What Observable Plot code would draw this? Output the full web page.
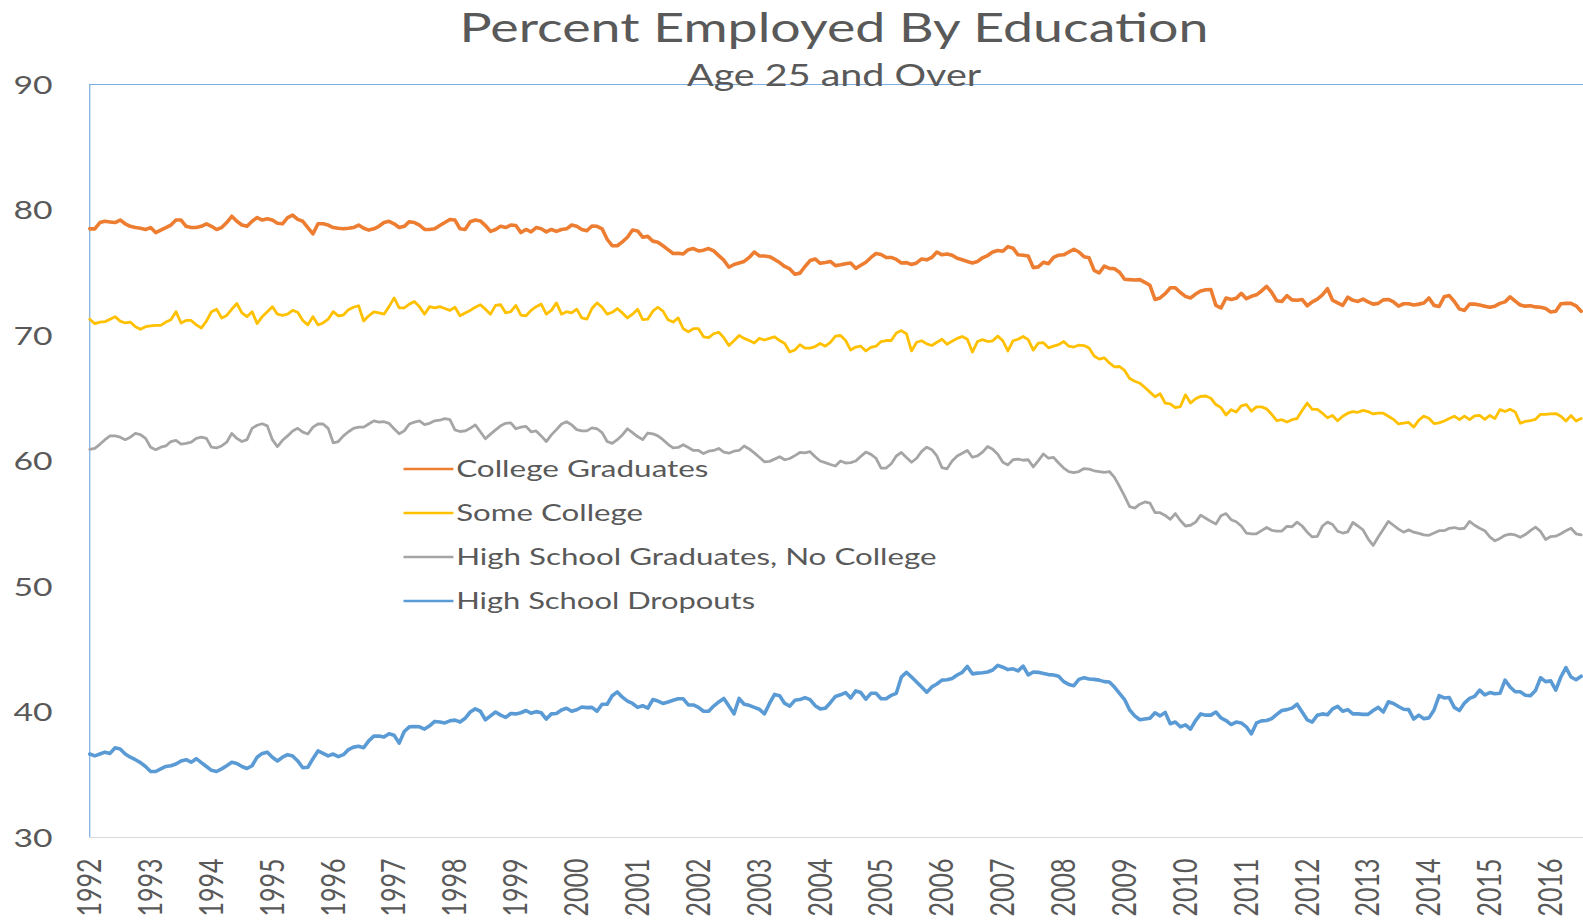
<!DOCTYPE html>
<html><head><meta charset="utf-8">
<script src="https://cdn.jsdelivr.net/npm/d3@7"></script>
<script src="https://cdn.jsdelivr.net/npm/@observablehq/plot@0.6"></script>
<style>
html,body{margin:0;padding:0;background:#fff;overflow:hidden;}
#chart svg path, #chart svg line { vector-effect: non-scaling-stroke; }
</style></head><body><div id="chart"></div>
<script>
const title = "Percent Employed By Education";
const subtitle = "Age 25 and Over";
const seriesNames = ["College Graduates", "Some College", "High School Graduates, No College", "High School Dropouts"];
const seriesColors = ["#ED7D31", "#FFC000", "#A5A5A5", "#5B9BD5"];
const startYear = 1992; // monthly values, January 1992 – July 2016

const college = [
78.5,78.5,79.0,79.1,79.05,79.0,79.2,78.9,78.7,78.6,78.55,78.45,
78.6,78.2,78.4,78.6,78.8,79.2,79.2,78.7,78.6,78.6,78.7,78.9,
78.7,78.45,78.6,79.0,79.5,79.1,78.8,78.7,79.1,79.4,79.2,79.3,
79.2,78.95,78.9,79.4,79.6,79.25,79.1,78.6,78.1,78.9,78.9,78.8,
78.6,78.54,78.5,78.54,78.6,78.8,78.54,78.4,78.5,78.7,79.0,79.1,
78.9,78.6,78.7,79.07,79.0,78.8,78.45,78.45,78.5,78.76,79.0,79.25,
79.2,78.5,78.45,79.07,79.2,79.13,78.76,78.3,78.45,78.7,78.6,78.8,
78.76,78.2,78.45,78.26,78.6,78.5,78.26,78.45,78.3,78.45,78.5,78.8,
78.7,78.45,78.35,78.73,78.7,78.5,77.67,77.15,77.15,77.46,77.83,78.4,
78.33,77.83,77.9,77.52,77.43,77.15,76.84,76.53,76.56,76.5,76.84,76.93,
76.74,76.8,76.93,76.74,76.37,76.0,75.44,75.66,75.78,75.9,76.22,76.65,
76.34,76.34,76.28,76.06,75.81,75.5,75.3,74.88,74.97,75.5,75.97,76.1,
75.75,75.81,75.9,75.57,75.63,75.72,75.78,75.35,75.6,75.84,76.22,76.53,
76.46,76.22,76.22,76.06,75.78,75.81,75.66,75.78,76.1,76.03,76.22,76.65,
76.43,76.5,76.4,76.15,76.03,75.9,75.78,75.9,76.19,76.37,76.65,76.77,
76.71,77.08,76.96,76.43,76.4,76.34,75.41,75.47,75.84,75.72,76.22,76.4,
76.43,76.65,76.87,76.65,76.28,76.19,75.19,74.98,75.53,75.35,75.32,75.04,
74.48,74.45,74.42,74.45,74.23,74.0,72.87,72.99,73.33,73.8,73.8,73.43,
73.12,72.99,73.3,73.55,73.64,73.67,72.4,72.19,72.99,72.87,72.96,73.36,
72.93,73.12,73.24,73.55,73.92,73.43,72.77,72.71,73.18,72.84,72.81,72.87,
72.37,72.68,72.9,73.24,73.73,72.81,72.6,72.4,73.05,72.8,72.71,72.9,
72.68,72.5,72.56,72.84,72.87,72.68,72.34,72.53,72.53,72.43,72.5,72.59,
72.99,72.4,72.31,73.08,73.18,72.71,72.12,72.0,72.5,72.5,72.43,72.34,
72.25,72.34,72.56,72.68,73.08,72.74,72.43,72.34,72.37,72.28,72.25,72.15,
71.87,71.94,72.53,72.56,72.56,72.37,71.94];

const someCollege = [
71.3,70.95,71.07,71.1,71.3,71.5,71.15,71.0,71.07,70.7,70.5,70.7,
70.76,70.8,70.8,71.07,71.25,71.9,71.0,71.2,71.2,70.85,70.6,71.15,
71.9,72.1,71.4,71.6,72.1,72.55,71.8,71.5,71.9,70.95,71.5,71.9,
72.3,71.7,71.6,71.7,72.0,71.85,71.2,70.85,71.5,70.85,71.0,71.3,
71.9,71.57,71.63,72.06,72.25,72.37,71.16,71.57,71.88,71.8,71.7,72.3,
73.0,72.2,72.2,72.5,72.7,72.3,71.7,72.3,72.2,72.3,72.15,72.0,
72.25,71.57,71.8,72.0,72.25,72.45,72.1,71.7,72.4,72.45,71.8,71.9,
72.4,71.63,71.57,72.0,72.3,72.5,71.7,72.0,72.6,71.7,71.9,71.8,
72.1,71.4,71.3,72.15,72.6,72.25,71.7,71.85,72.15,71.8,71.4,71.7,
72.1,71.26,71.3,71.94,72.25,71.94,71.26,71.07,71.4,70.54,70.3,70.54,
70.54,69.9,69.83,70.14,70.26,69.83,69.2,69.58,70.0,69.77,69.6,69.4,
69.77,69.64,69.77,69.9,69.6,69.36,68.68,68.84,69.27,69.0,69.0,69.12,
69.36,69.15,69.46,69.95,70.0,69.6,68.84,69.08,69.15,68.77,69.05,69.15,
69.52,69.6,69.6,70.2,70.39,70.14,68.77,69.46,69.58,69.33,69.2,69.46,
69.7,69.3,69.55,69.77,69.92,69.7,68.68,69.52,69.67,69.52,69.58,69.95,
69.58,68.77,69.58,69.7,69.92,69.67,68.84,69.4,69.43,69.02,69.15,69.27,
69.52,69.15,69.08,69.24,69.2,69.0,68.37,68.12,68.22,67.81,67.5,67.53,
67.22,66.57,66.35,66.2,65.86,65.49,65.12,65.36,64.62,64.56,64.25,64.34,
65.27,64.62,64.96,65.15,65.18,65.0,64.5,64.25,63.66,64.09,63.9,64.4,
64.5,63.97,64.31,64.31,64.15,63.72,63.22,63.29,63.1,63.29,63.38,64.03,
64.62,64.12,64.12,63.81,63.44,63.63,63.2,63.57,63.81,63.94,63.88,64.03,
63.94,63.75,63.81,63.81,63.57,63.32,62.95,63.01,63.07,62.7,63.26,63.57,
63.41,62.98,63.04,63.19,63.38,63.57,63.29,63.57,63.29,63.6,63.63,63.32,
63.63,63.38,64.09,63.94,64.12,63.91,63.01,63.16,63.22,63.32,63.72,63.72,
63.75,63.78,63.57,63.19,63.63,63.19,63.38];

const hsGrad = [
60.93,61.0,61.33,61.7,62.0,62.0,61.9,61.7,61.9,62.2,62.1,61.8,
61.1,60.9,61.1,61.2,61.55,61.65,61.35,61.4,61.5,61.8,61.9,61.8,
61.1,61.05,61.2,61.5,62.2,61.8,61.55,61.7,62.6,62.85,62.97,62.8,
61.7,61.15,61.65,62.0,62.4,62.6,62.3,62.15,62.7,62.95,62.95,62.6,
61.45,61.55,62.0,62.33,62.6,62.7,62.7,62.95,63.2,63.1,63.13,63.0,
62.57,62.17,62.4,62.95,63.1,63.2,62.9,63.0,63.2,63.25,63.38,63.3,
62.48,62.35,62.4,62.6,62.88,62.33,61.77,62.14,62.48,62.8,63.0,63.04,
62.57,62.7,62.76,62.33,62.4,62.0,61.55,62.08,62.5,62.95,63.13,62.88,
62.5,62.4,62.4,62.64,62.57,62.26,61.55,61.4,61.7,62.08,62.57,62.26,
61.95,61.7,62.23,62.17,62.0,61.7,61.33,61.05,61.08,61.3,61.08,60.84,
60.84,60.59,60.78,60.84,61.0,60.7,60.62,60.78,60.84,61.2,60.96,60.65,
60.3,59.94,59.97,60.15,60.34,60.1,60.2,60.43,60.68,60.65,60.74,60.34,
60.0,59.87,59.72,59.6,60.0,59.84,59.87,60.0,60.37,60.71,60.53,60.22,
59.44,59.44,59.78,60.4,60.68,60.28,59.9,60.22,60.77,61.1,60.9,60.4,
59.47,59.38,60.0,60.4,60.62,60.84,60.3,60.4,60.71,61.15,60.93,60.53,
59.9,59.69,60.1,60.15,60.06,60.1,59.53,60.03,60.56,60.22,60.28,59.84,
59.44,59.16,59.07,59.16,59.4,59.35,59.22,59.16,59.1,59.16,58.7,57.98,
57.2,56.37,56.25,56.56,56.74,56.65,55.88,55.88,55.66,55.35,55.81,55.26,
54.82,54.88,55.13,55.69,55.44,55.19,54.98,55.63,55.81,55.32,55.16,54.82,
54.26,54.2,54.2,54.45,54.7,54.48,54.42,54.42,54.79,54.76,55.13,54.82,
54.33,53.95,54.0,54.82,55.13,54.94,54.4,54.26,54.36,55.1,54.82,54.51,
53.8,53.27,53.95,54.57,55.19,54.88,54.57,54.33,54.51,54.33,54.23,54.11,
54.08,54.26,54.45,54.45,54.64,54.7,54.6,54.64,55.19,54.88,54.64,54.45,
53.95,53.64,53.83,54.08,54.17,54.11,53.92,54.14,54.45,54.73,54.39,53.74,
53.98,54.01,54.2,54.45,54.64,54.2,54.11];

const dropouts = [
36.65,36.5,36.65,36.8,36.7,37.15,37.05,36.65,36.4,36.2,35.97,35.66,
35.26,35.26,35.47,35.66,35.72,35.85,36.1,36.2,36.0,36.28,35.97,35.66,
35.35,35.26,35.47,35.72,36.0,35.9,35.66,35.5,35.72,36.4,36.7,36.8,
36.4,36.1,36.4,36.6,36.5,36.1,35.56,35.6,36.28,36.9,36.7,36.5,
36.65,36.44,36.6,37.0,37.2,37.27,37.15,37.7,38.08,38.08,38.0,38.26,
38.14,37.52,38.45,38.82,38.85,38.82,38.64,38.9,39.25,39.2,39.13,39.3,
39.35,39.2,39.5,40.0,40.25,40.06,39.38,39.69,40.0,39.75,39.57,39.88,
39.85,39.94,40.12,39.9,40.03,39.94,39.44,39.85,39.88,40.16,40.3,40.06,
40.18,40.4,40.35,40.37,40.06,40.62,40.62,41.3,41.6,41.18,40.87,40.68,
40.37,40.5,40.3,40.99,40.87,40.68,40.8,40.93,41.05,41.05,40.56,40.56,
40.37,40.06,40.06,40.47,40.8,41.08,40.47,39.85,41.08,40.62,40.53,40.37,
40.22,39.85,40.68,41.4,41.3,40.68,40.47,40.93,40.99,41.15,40.99,40.5,
40.25,40.3,40.74,41.24,41.37,41.55,41.12,41.68,41.55,41.02,41.49,41.49,
41.05,41.05,41.33,41.49,42.79,43.16,42.79,42.39,41.99,41.58,42.0,42.23,
42.54,42.57,42.67,42.95,43.16,43.63,43.04,43.1,43.13,43.19,43.35,43.72,
43.57,43.38,43.44,43.28,43.66,42.95,43.19,43.16,43.07,42.98,42.95,42.85,
42.42,42.2,42.1,42.6,42.73,42.63,42.6,42.54,42.42,42.39,41.99,41.49,
40.99,40.16,39.69,39.38,39.44,39.5,39.94,39.69,39.97,39.07,39.2,38.82,
38.98,38.64,39.32,39.85,39.75,39.75,40.0,39.53,39.32,39.0,39.2,39.13,
38.82,38.26,39.13,39.29,39.32,39.47,39.81,40.12,40.19,40.31,40.62,40.0,
39.38,39.2,39.75,39.85,39.78,40.25,40.45,40.06,40.19,39.85,39.85,39.81,
39.81,40.12,40.37,40.0,40.81,40.68,40.44,40.22,40.19,39.44,39.75,39.47,
39.53,40.16,41.3,41.12,41.15,40.37,40.12,40.71,41.08,41.24,41.74,41.37,
41.55,41.46,41.49,42.54,41.99,41.61,41.61,41.33,41.3,41.71,42.73,42.42,
42.48,41.74,42.79,43.54,42.79,42.57,42.85];

const yearLabels = [1992,1993,1994,1995,1996,1997,1998,1999,2000,2001,2002,2003,2004,2005,2006,2007,2008,2009,2010,2011,2012,2013,2014,2015,2016];
const yTicks = [30, 40, 50, 60, 70, 80, 90];

const allSeries = [college, someCollege, hsGrad, dropouts];
const widths = [3.6, 2.8, 2.8, 3.6];
const table = [];
allSeries.forEach((vals, s) => vals.forEach((v, i) => table.push({series: seriesNames[s], t: startYear + i / 12, v})));

const W = 1173, H = 921, FULLW = 1583;
const textColor = "#595959";
const axisBlue = "#7aaee0";

const plot = Plot.plot({
  width: W, height: H,
  marginLeft: 66, marginRight: 0, marginTop: 84, marginBottom: 84,
  style: {fontFamily: "Lato, 'Open Sans', sans-serif", fontSize: "25px", background: "white", overflow: "visible"},
  x: {domain: [startYear, startYear + 294.5 / 12], axis: null},
  y: {domain: [30, 90], axis: null},
  marks: [
    Plot.ruleY([30], {stroke: "#d9d9d9", strokeWidth: 1.2}),
    Plot.ruleY([90], {stroke: axisBlue, strokeWidth: 1.2}),
    Plot.ruleX([startYear], {stroke: axisBlue, strokeWidth: 1.2}),
    ...seriesNames.map((name, s) => Plot.line(table.filter(d => d.series === name), {
      x: "t", y: "v", stroke: seriesColors[s], strokeWidth: widths[s], strokeLinejoin: "round"
    })),
    Plot.text(yTicks, {y: d => d, text: d => String(d), frameAnchor: "left", dx: -27.5, dy: 1,
      textAnchor: "end", fill: textColor, fontSize: 25}),
    Plot.text(yearLabels, {x: d => d, text: d => String(d), frameAnchor: "bottom", dy: 21, dx: 8.4,
      rotate: -90, textAnchor: "end", fill: textColor, fontSize: 25})
  ]
});

const svg = d3.select(plot);
svg.append("text").attr("x", 618).attr("y", 42).attr("text-anchor", "middle")
  .attr("font-size", 40).attr("fill", textColor).attr("textLength", 555).attr("lengthAdjust", "spacingAndGlyphs")
  .text(title);
svg.append("text").attr("x", 618).attr("y", 86).attr("text-anchor", "middle")
  .attr("font-size", 31).attr("fill", textColor).attr("textLength", 218).attr("lengthAdjust", "spacingAndGlyphs")
  .text(subtitle);

const legendRows = [469, 513, 557, 601];
const legendWidths = [187, 138.5, 356, 221.5];
const lg = svg.append("g");
seriesNames.forEach((name, s) => {
  lg.append("line").attr("x1", 299).attr("x2", 336).attr("y1", legendRows[s]).attr("y2", legendRows[s])
    .attr("stroke", seriesColors[s]).attr("stroke-width", 2.6);
  lg.append("text").attr("x", 338).attr("y", legendRows[s]).attr("dy", "0.35em")
    .attr("font-size", 23).attr("fill", textColor).attr("text-anchor", "start")
    .attr("textLength", legendWidths[s]).attr("lengthAdjust", "spacingAndGlyphs")
    .text(name);
});

plot.setAttribute("width", FULLW);
plot.setAttribute("height", H);
plot.setAttribute("viewBox", `0 0 ${W} ${H}`);
plot.setAttribute("preserveAspectRatio", "none");
plot.style.maxWidth = "none";
plot.style.width = FULLW + "px";
plot.style.height = H + "px";
document.getElementById("chart").appendChild(plot);
</script></body></html>
